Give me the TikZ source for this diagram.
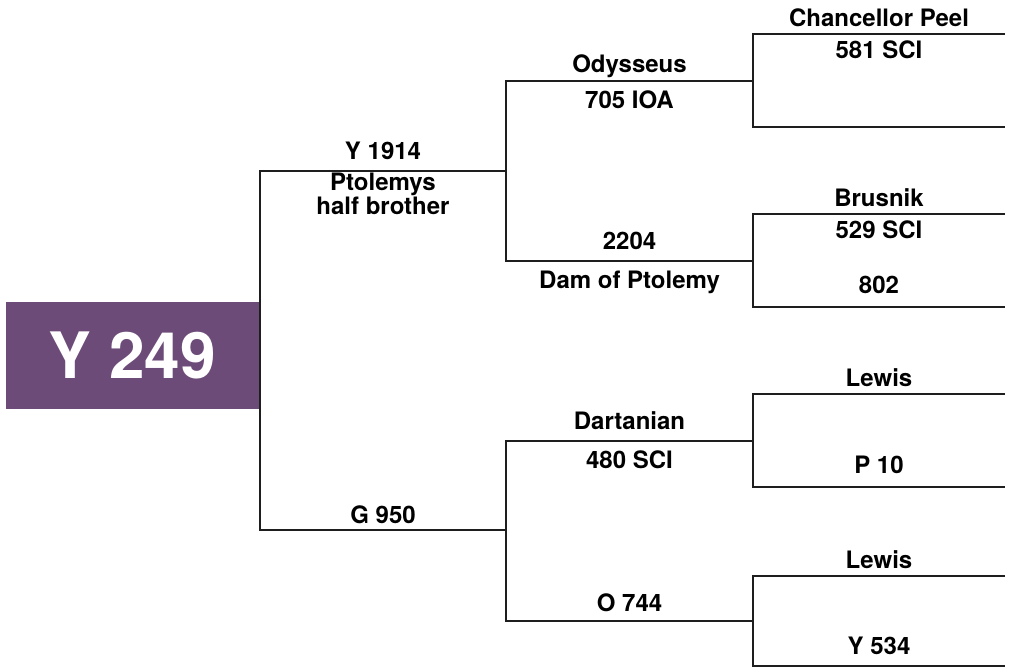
\documentclass[tikz,border=0pt]{standalone}
\usepackage{fontspec}
\setmainfont{TeX Gyre Heros}
\usetikzlibrary{positioning}
\definecolor{grape}{HTML}{6D4B79}
\definecolor{ink}{HTML}{1E1E1E}
\tikzset{
  rootbox/.style={rectangle, fill=grape, text=white, inner sep=0pt,
                  font=\fontsize{64}{64}\selectfont\bfseries,
                  minimum width=254pt, minimum height=107pt},
  lbl/.style={font=\fontsize{24}{17.5}\selectfont\bfseries, text=black,
              inner sep=0pt, anchor=base, align=center, yshift=-1.5pt},
  tie/.style={draw=ink, line width=1.8pt}
}

\begin{document}
\begin{tikzpicture}[x=1pt, y=-1pt]
   \useasboundingbox (0,0) rectangle (1009,668);
   % subject
   \node[rootbox] (y249) at (132.5,355.7) {Y 249};
   % parents
   \coordinate (s) at (260,171);     \coordinate (s-end) at (506,171);
   \coordinate (d) at (260,530);     \coordinate (d-end) at (506,530);
   % grandparents
   \coordinate (ss) at (506,80.7);   \coordinate (ss-end) at (753,80.7);
   \coordinate (sd) at (506,260.7);  \coordinate (sd-end) at (753,260.7);
   \coordinate (ds) at (506,441);    \coordinate (ds-end) at (753,441);
   \coordinate (dd) at (506,620.7);  \coordinate (dd-end) at (753,620.7);
   % great grandparents
   \coordinate (sss) at (753,34.3);  \coordinate (sss-end) at (1005,34.3);
   \coordinate (ssd) at (753,126.7); \coordinate (ssd-end) at (1005,126.7);
   \coordinate (sds) at (753,214.3); \coordinate (sds-end) at (1005,214.3);
   \coordinate (sdd) at (753,306.7); \coordinate (sdd-end) at (1005,306.7);
   \coordinate (dss) at (753,394.3); \coordinate (dss-end) at (1005,394.3);
   \coordinate (dsd) at (753,486.7); \coordinate (dsd-end) at (1005,486.7);
   \coordinate (dds) at (753,575.7); \coordinate (dds-end) at (1005,575.7);
   \coordinate (ddd) at (753,666);   \coordinate (ddd-end) at (1005,666);

   \draw[tie] (s-end) -- (s) -- (d) -- (d-end);
   \draw[tie] (ss-end) -- (ss) -- (sd) -- (sd-end);
   \draw[tie] (ds-end) -- (ds) -- (dd) -- (dd-end);
   \draw[tie] (sss-end) -- (sss) -- (ssd) -- (ssd-end);
   \draw[tie] (sds-end) -- (sds) -- (sdd) -- (sdd-end);
   \draw[tie] (dss-end) -- (dss) -- (dsd) -- (dsd-end);
   \draw[tie] (dds-end) -- (dds) -- (ddd) -- (ddd-end);

   \node[lbl] (y1914) at (383,158) {Y 1914};
   \node[lbl] (halfbro) at (383,213) {Ptolemys\\half brother};
   \node[lbl] (g950) at (383,521.7) {G 950};

   \node[lbl] (odysseus) at (629.5,70.7) {Odysseus};
   \node[lbl] (ioa705) at (629.5,106.7) {705 IOA};
   \node[lbl] (n2204) at (629.5,248.3) {2204};
   \node[lbl] (damptol) at (629.5,286.7) {Dam of Ptolemy};
   \node[lbl] (dartanian) at (629.5,428.3) {Dartanian};
   \node[lbl] (sci480) at (629.5,466.7) {480 SCI};
   \node[lbl] (o744) at (629.5,610) {O 744};

   \node[lbl] (peel) at (879,25) {Chancellor Peel};
   \node[lbl] (sci581) at (879,57.3) {581 SCI};
   \node[lbl] (brusnik) at (879,205) {Brusnik};
   \node[lbl] (sci529) at (879,237) {529 SCI};
   \node[lbl] (n802) at (879,291.7) {802};
   \node[lbl] (lewis1) at (879,385) {Lewis};
   \node[lbl] (p10) at (879,471.7) {P 10};
   \node[lbl] (lewis2) at (879,566.7) {Lewis};
   \node[lbl] (y534) at (879,653.3) {Y 534};
  \end{tikzpicture}
\end{document}
